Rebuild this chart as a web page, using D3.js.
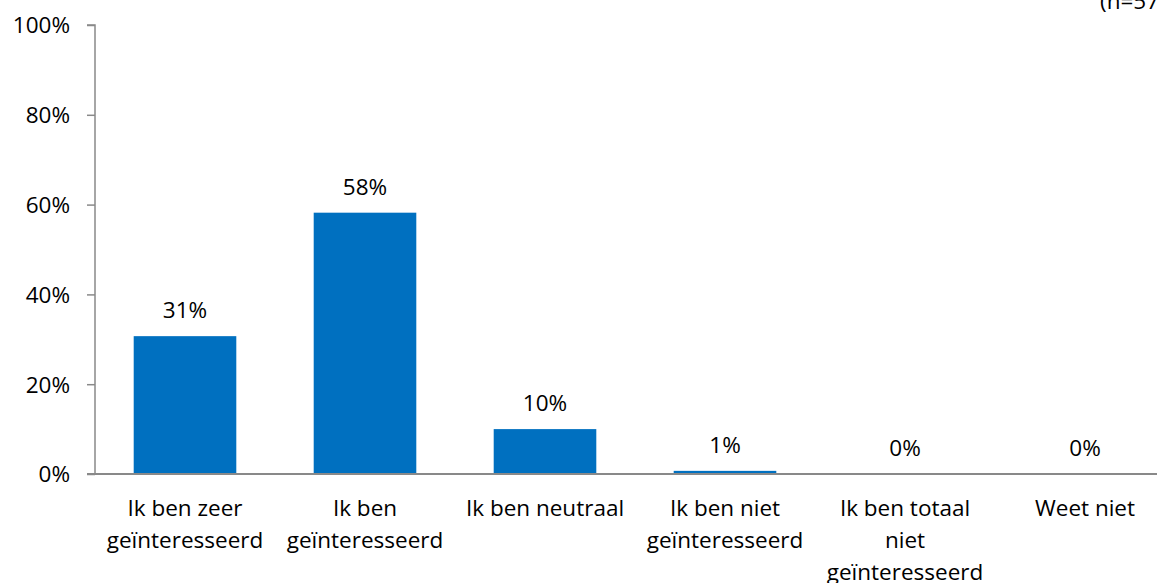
<!DOCTYPE html>
<html><head><meta charset="utf-8">
<script src="https://cdn.jsdelivr.net/npm/d3@7"></script>
<style>body{margin:0;background:#fff}svg{display:block}text{font-family:"Open Sans","Noto Sans",sans-serif;fill:#000}</style>
</head><body><svg id="c" width="1157" height="583"></svg>
<script>
const categories = ["Ik ben zeer\ngeïnteresseerd","Ik ben\ngeïnteresseerd","Ik ben neutraal","Ik ben niet\ngeïnteresseerd","Ik ben totaal\nniet\ngeïnteresseerd","Weet niet"];
const values = [30.7, 58.2, 10.0, 0.7, 0, 0];
const valueLabels = ["31%","58%","10%","1%","0%","0%"];
const yTicks = [0,20,40,60,80,100];
const note = "(n=57)";

const svg = d3.select("#c");
const m = {l:95, t:25, b:474};
const x = d3.scaleBand().domain(categories).range([m.l, m.l+1080]).paddingInner(0.43).paddingOuter(0.215);
const y = d3.scaleLinear().domain([0,100]).range([m.b, m.t]);
const fs = 22.5;

svg.selectAll("rect.bar").data(values).enter().append("rect")
  .attr("x",(d,i)=>x(categories[i])).attr("width",x.bandwidth())
  .attr("y",d=>y(d)).attr("height",d=>y(0)-y(d)).attr("fill","#0070C0");

const ya = svg.append("g").attr("transform",`translate(${m.l},0)`)
  .call(d3.axisLeft(y).tickValues(yTicks).tickFormat(d=>d+"%").tickSize(8).tickPadding(17));
ya.select(".domain").attr("stroke","#898989").attr("stroke-width",1.5).attr("d",`M-8,${y(100)}H0V${y(0)}`);
ya.selectAll(".tick line").attr("stroke","#898989").attr("stroke-width",1.5);
ya.selectAll(".tick text").style("font-size",fs+"px").attr("fill","#000").attr("dy","0.35em");

svg.append("line").attr("x1",m.l-8).attr("x2",1157).attr("y1",y(0)).attr("y2",y(0)).attr("stroke","#898989").attr("stroke-width",2);

svg.selectAll("text.vl").data(values).enter().append("text").attr("class","vl")
  .attr("x",(d,i)=>x(categories[i])+x.bandwidth()/2).attr("y",d=>y(d)-18)
  .attr("text-anchor","middle").style("font-size",fs+"px").text((d,i)=>valueLabels[i]);

const cl = svg.selectAll("text.cl").data(categories).enter().append("text").attr("class","cl")
  .attr("text-anchor","middle").style("font-size",fs+"px")
  .attr("transform",d=>`translate(${x(d)+x.bandwidth()/2},${y(0)+42})`);
cl.each(function(d){
  d.split("\n").forEach((s,i)=>d3.select(this).append("tspan").attr("x",0).attr("y",i*32).text(s));
});

svg.append("text").attr("x",1100).attr("y",9).style("font-size",fs+"px").text(note);
</script></body></html>
